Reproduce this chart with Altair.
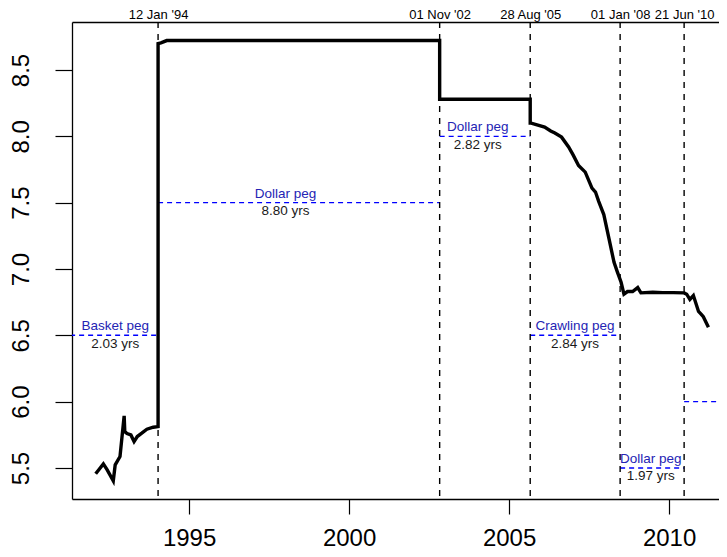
import altair as alt
import pandas as pd

# exchange-rate series (decimal year, CNY per USD)
t = [1992.08, 1992.32, 1992.44, 1992.63, 1992.69, 1992.84, 1992.97, 1992.99, 1993.06,
     1993.18, 1993.28, 1993.38, 1993.52, 1993.68, 1993.88, 1994.03,
     1994.03, 1994.12, 1994.30, 2002.83,
     2002.83, 2005.66,
     2005.66, 2005.69, 2005.90, 2006.11, 2006.30, 2006.43, 2006.64, 2006.86, 2007.00,
     2007.17, 2007.38, 2007.59, 2007.70, 2007.80, 2007.96, 2008.12, 2008.28, 2008.38,
     2008.50, 2008.59, 2008.70, 2008.86, 2009.02, 2009.12, 2009.49, 2009.80, 2010.13,
     2010.47, 2010.55, 2010.65, 2010.76, 2010.92, 2011.00, 2011.07, 2011.23]
rate = [5.456, 5.531, 5.485, 5.403, 5.523, 5.586, 5.893, 5.774, 5.760,
        5.749, 5.699, 5.737, 5.762, 5.792, 5.807, 5.812,
        8.700, 8.705, 8.722, 8.722,
        8.280, 8.280,
        8.100, 8.100, 8.085, 8.070, 8.040, 8.025, 7.994, 7.920, 7.860,
        7.780, 7.730, 7.610, 7.580, 7.510, 7.410, 7.230, 7.050, 6.980,
        6.900, 6.810, 6.830, 6.830, 6.860, 6.820, 6.825, 6.822, 6.822,
        6.820, 6.810, 6.770, 6.800, 6.680, 6.660, 6.640, 6.560]

# structural break dates
break_years = [1994.03, 2002.83, 2005.66, 2008.47, 2010.47]
break_labels = ["12 Jan '94", "01 Nov '02", "28 Aug '05", "01 Jan '08", "21 Jun '10"]

# regimes
regime_start = [1991.0, 1994.03, 2002.83, 2005.66, 2008.47, 2010.47]
regime_end = [1994.03, 2002.83, 2005.66, 2008.47, 2010.47, 2013.0]
regime_level = [6.5, 7.5, 8.0, 6.5, 5.5, 6.0]
regime_name = ["Basket peg", "Dollar peg", "Dollar peg", "Crawling peg", "Dollar peg"]
regime_dur = ["2.03 yrs", "8.80 yrs", "2.82 yrs", "2.84 yrs", "1.97 yrs"]
label_year = [1992.69, 1998.01, 2004.02, 2007.06, 2009.43]

x_ticks = [1995, 2000, 2005, 2010]
y_ticks = [5.5, 6.0, 6.5, 7.0, 7.5, 8.0, 8.5]

FONT = "Liberation Sans"

series = pd.DataFrame({"t": t, "rate": rate, "i": list(range(len(t)))})
breaks = pd.DataFrame({"b": break_years})
regimes = pd.DataFrame({"s": regime_start, "e": regime_end, "lvl": regime_level})
labels = pd.DataFrame({"x": label_year, "lvl": regime_level[:5],
                       "name": regime_name, "dur": regime_dur})

xscale = alt.Scale(domain=[1991.34, 2011.56], nice=False, zero=False)
yscale = alt.Scale(domain=[5.266, 8.862], nice=False, zero=False)

top_expr = " : ".join(f'datum.value == {b} ? "{l}"' for b, l in zip(break_years, break_labels)) + ' : ""'

yaxis = alt.Axis(
    values=y_ticks, format=".1f", title=None, grid=False,
    tickSize=17, tickColor="black", tickWidth=1.2, domainColor="black", domainWidth=1.3,
    labelFontSize=24, labelFont=FONT, labelColor="black", labelAngle=270,
    labelAlign="center", labelBaseline="alphabetic", labelPadding=27, labelFlush=False)

line = alt.Chart(series).mark_line(color="black", strokeWidth=3.4, clip=True).encode(
    x=alt.X("t:Q", scale=xscale, axis=alt.Axis(
        orient="bottom", values=x_ticks, format="d", title=None, grid=False,
        tickSize=15, tickColor="black", tickWidth=1.2, domainColor="black", domainWidth=1.3,
        labelFontSize=24, labelFont=FONT, labelColor="black", labelPadding=31,
        labelBaseline="alphabetic", labelFlush=False)),
    y=alt.Y("rate:Q", scale=yscale, axis=yaxis),
    order="i:Q",
)

vrules = alt.Chart(breaks).mark_rule(color="black", strokeWidth=1.4, strokeDash=[6, 6]).encode(
    x=alt.X("b:Q", scale=xscale, axis=alt.Axis(
        orient="top", values=break_years, labelExpr=top_expr, title=None, grid=False,
        tickSize=0, domainColor="black", domainWidth=1.3,
        labelFontSize=13, labelFont=FONT, labelColor="black", labelPadding=4,
        labelBaseline="alphabetic", labelOverlap=False, labelFlush=False)),
)

hsegs = alt.Chart(regimes).mark_rule(color="#0000ff", strokeWidth=1.4, strokeDash=[5, 4], clip=True).encode(
    x=alt.X("s:Q", scale=xscale, axis=None),
    x2="e:Q",
    y=alt.Y("lvl:Q", scale=yscale, axis=yaxis),
)

names = alt.Chart(labels).mark_text(font=FONT, fontSize=13.5, color="#2424b4",
                                    align="center", baseline="alphabetic", dy=-5).encode(
    x=alt.X("x:Q", scale=xscale, axis=None),
    y=alt.Y("lvl:Q", scale=yscale, axis=yaxis),
    text="name:N",
)

durs = alt.Chart(labels).mark_text(font=FONT, fontSize=13.5, color="#1a1a1a",
                                   align="center", baseline="alphabetic", dy=12.5).encode(
    x=alt.X("x:Q", scale=xscale, axis=None),
    y=alt.Y("lvl:Q", scale=yscale, axis=yaxis),
    text="dur:N",
)

chart = alt.layer(hsegs, vrules, line, names, durs).resolve_axis(x="independent").properties(
    width=647, height=477,
    autosize=alt.AutoSizeParams(type="none"),
    padding={"left": 64, "top": 14, "right": 0, "bottom": 50},
).configure_view(stroke="transparent")

chart.save("out.html", embed_options={"renderer": "svg", "actions": False})
